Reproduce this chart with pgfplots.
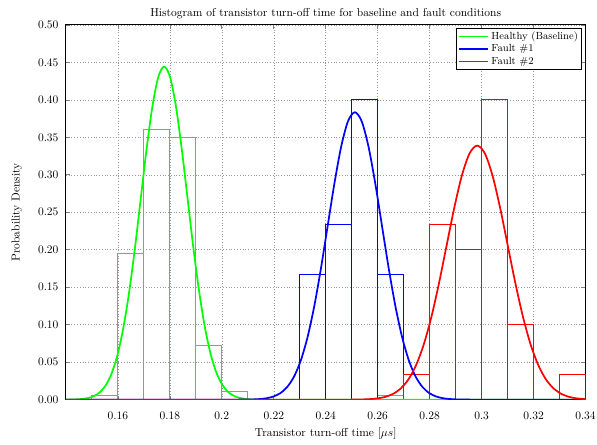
\documentclass[border=0pt]{standalone}
\usepackage{pgfplots}
\pgfplotsset{compat=1.18}
\definecolor{mgreen}{rgb}{0,1,0}
\definecolor{mblue}{rgb}{0,0,1}
\definecolor{mred}{rgb}{1,0,0}
\pgfplotsset{
  gbar/.style={sharp plot, color=mgreen, draw=mgreen, line width=0.9pt, forget plot},
  bbar/.style={sharp plot, color=mblue, draw=mblue, line width=0.9pt, forget plot},
  rbar/.style={sharp plot, color=mred, draw=mred, line width=0.9pt, forget plot},
}
\begin{document}
\begin{tikzpicture}
\begin{axis}[
  name=ax,
  scale only axis,
  width=452pt, height=326pt,
  xmin=0.14, xmax=0.34, ymin=0, ymax=0.5,
  xtick={0.16,0.18,0.2,0.22,0.24,0.26,0.28,0.3,0.32,0.34},
  ytick={0,0.05,0.1,0.15,0.2,0.25,0.3,0.35,0.4,0.45,0.5},
  yticklabel style={/pgf/number format/fixed, /pgf/number format/fixed zerofill, /pgf/number format/precision=2, /tikz/xshift=-3pt},
  xticklabel style={/pgf/number format/fixed, /pgf/number format/precision=2, /tikz/yshift=-7pt},
  scaled ticks=false,
  grid=major,
  major grid style={dotted, gray!80, line width=0.5pt},
  tick align=inside,
  major tick length=3.5pt,
  axis line style={line width=0.9pt},
  tick style={line width=0.6pt},
  title={Histogram of transistor turn-off time for baseline and fault conditions},
  title style={yshift=-4pt},
  xlabel={Transistor turn-off time [$\mu s$]},
  ylabel={Probability Density},
  ticklabel style={font=\normalsize},
  xlabel style={yshift=-1pt},
  ylabel style={yshift=7pt},
  legend style={at={(0.993,0.992)}, anchor=north east, font=\small, line width=0.8pt, inner sep=1pt, row sep=-1pt, cells={anchor=west}},
  legend image code/.code={\draw[#1, line width=1.5pt] (0cm,0cm) -- (0.9cm,0cm);},
]
% Healthy histogram (one outline per bin)
\addplot[gbar] coordinates {(0.15,0) (0.15,0.005) (0.16,0.005) (0.16,0)};
\addplot[gbar] coordinates {(0.16,0) (0.16,0.195) (0.17,0.195) (0.17,0)};
\addplot[gbar] coordinates {(0.17,0) (0.17,0.361) (0.18,0.361) (0.18,0)};
\addplot[gbar] coordinates {(0.18,0) (0.18,0.350) (0.19,0.350) (0.19,0)};
\addplot[gbar] coordinates {(0.19,0) (0.19,0.072) (0.20,0.072) (0.20,0)};
\addplot[gbar] coordinates {(0.20,0) (0.20,0.011) (0.21,0.011) (0.21,0)};
\addplot[gbar] coordinates {(0.26,0) (0.26,0.005) (0.27,0.005) (0.27,0)};
% Fault 1 histogram
\addplot[bbar] coordinates {(0.23,0) (0.23,0.1667) (0.24,0.1667) (0.24,0)};
\addplot[bbar] coordinates {(0.24,0) (0.24,0.2333) (0.25,0.2333) (0.25,0)};
\addplot[bbar] coordinates {(0.25,0) (0.25,0.4) (0.26,0.4) (0.26,0)};
\addplot[bbar] coordinates {(0.26,0) (0.26,0.1667) (0.27,0.1667) (0.27,0)};
\addplot[bbar] coordinates {(0.27,0) (0.27,0.0333) (0.28,0.0333) (0.28,0)};
% Fault 2 histogram
\addplot[rbar] coordinates {(0.27,0) (0.27,0.0333) (0.28,0.0333) (0.28,0)};
\addplot[rbar] coordinates {(0.28,0) (0.28,0.2333) (0.29,0.2333) (0.29,0)};
\addplot[rbar] coordinates {(0.29,0) (0.29,0.2) (0.30,0.2) (0.30,0)};
\addplot[rbar] coordinates {(0.30,0) (0.30,0.4) (0.31,0.4) (0.31,0)};
\addplot[rbar] coordinates {(0.31,0) (0.31,0.1) (0.32,0.1) (0.32,0)};
\addplot[rbar] coordinates {(0.33,0) (0.33,0.0333) (0.34,0.0333) (0.34,0)};
% Healthy fit
\addplot[color=mgreen, draw=mgreen, line width=1.5pt, smooth] coordinates {
 (0.14,0.00002) (0.14192,0.00015) (0.14416,0.00039) (0.14641,0.00097) (0.14865,0.00226)
 (0.15089,0.00494) (0.15313,0.01013) (0.15538,0.01953) (0.15762,0.03536) (0.15986,0.06016)
 (0.16210,0.09613) (0.16435,0.14431) (0.16659,0.20351) (0.16883,0.26960) (0.17107,0.33553)
 (0.17332,0.39227) (0.17556,0.43082) (0.1778,0.4445) (0.18004,0.43082) (0.18229,0.39227)
 (0.18453,0.33553) (0.18677,0.26960) (0.18901,0.20351) (0.19126,0.14431) (0.19350,0.09613)
 (0.19574,0.06016) (0.19798,0.03536) (0.20023,0.01953) (0.20247,0.01013) (0.20471,0.00494)
 (0.20695,0.00226) (0.20920,0.00097) (0.21144,0.00039) (0.21368,0.00015) (0.22,0.00001) (0.34,0)};
\addlegendentry{Healthy (Baseline)}
% Fault 1 fit
\addplot[color=mblue, draw=mblue, line width=1.5pt, smooth] coordinates {
 (0.14,0) (0.2,0.00001) (0.20952,0.00013) (0.212125,0.00034) (0.21473,0.00084) (0.217335,0.00195)
 (0.21994,0.00426) (0.222545,0.00874) (0.22515,0.01685) (0.227755,0.03051) (0.23036,0.05190)
 (0.232965,0.08294) (0.23557,0.12450) (0.238175,0.17558) (0.24078,0.23260) (0.243385,0.28948)
 (0.24599,0.33844) (0.248595,0.37170) (0.2512,0.3835) (0.253805,0.37170) (0.25641,0.33844)
 (0.259015,0.28948) (0.26162,0.23260) (0.264225,0.17558) (0.26683,0.12450) (0.269435,0.08294)
 (0.27204,0.05190) (0.274645,0.03051) (0.27725,0.01685) (0.279855,0.00874) (0.28246,0.00426)
 (0.285065,0.00195) (0.28767,0.00084) (0.290275,0.00034) (0.29288,0.00013) (0.30,0.00001) (0.34,0)};
\addlegendentry{Fault \#1}
% Fault 2 fit
\addplot[color=mred, draw=mred, line width=1.5pt, smooth] coordinates {
 (0.14,0) (0.24,0.00001) (0.25122,0.00011) (0.254163,0.00030) (0.257105,0.00074) (0.260048,0.00172)
 (0.26299,0.00377) (0.265933,0.00773) (0.268875,0.01490) (0.271818,0.02697) (0.27476,0.04588)
 (0.277703,0.07332) (0.280645,0.11006) (0.283588,0.15520) (0.28653,0.20561) (0.289473,0.25589)
 (0.292415,0.29917) (0.295358,0.32857) (0.2983,0.339) (0.301243,0.32857) (0.304185,0.29917)
 (0.307128,0.25589) (0.31007,0.20561) (0.313013,0.15520) (0.315955,0.11006) (0.318898,0.07332)
 (0.32184,0.04588) (0.324783,0.02697) (0.327725,0.01490) (0.330668,0.00773) (0.33361,0.00377)
 (0.336553,0.00172) (0.339495,0.00074) (0.34,0.00064)};
\addlegendentry{Fault \#2}
\end{axis}
\pgfresetboundingbox
\path ([xshift=-57.4pt,yshift=-39.1pt]ax.south west) rectangle ([xshift=10pt,yshift=21.7pt]ax.north east);
\end{tikzpicture}
\end{document}
